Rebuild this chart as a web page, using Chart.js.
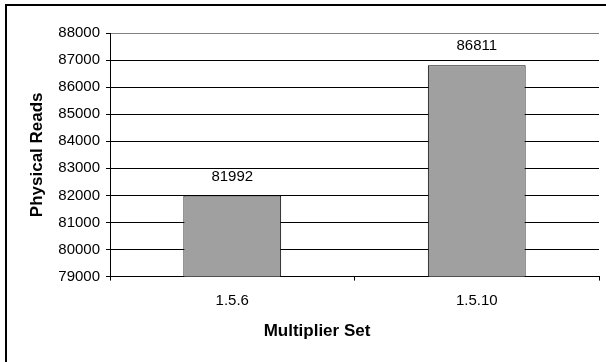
<!DOCTYPE html>
<html>
<head>
<meta charset="utf-8">
<script src="https://cdn.jsdelivr.net/npm/chart.js@4/dist/chart.umd.min.js"></script>
<style>
body { margin: 0; background: #fff; overflow: hidden; }
#wrap { position: relative; width: 606px; height: 362px; overflow: hidden; }
#frame { position: absolute; left: 5px; top: 4px; width: 640px; height: 400px; border-left: 2px solid #000; border-top: 2px solid #000; }
canvas { position: absolute; left: 0; top: 0; }
</style>
</head>
<body>
<div id="wrap">
    <div id="frame"></div>
    <canvas id="chart" width="606" height="362"></canvas>
</div>
<script>
const categories = ["1.5.6", "1.5.10"];
const physicalReads = [81992, 86811];
const yMin = 79000;
const yMax = 88000;
const yStep = 1000;

const fontFamily = "'Liberation Sans', Arial, sans-serif";

// numbers above the bars
const valueLabels = {
    id: "valueLabels",
    afterDatasetsDraw(chart) {
        const ctx = chart.ctx;
        const meta = chart.getDatasetMeta(0);
        ctx.save();
        ctx.font = "15px " + fontFamily;
        ctx.fillStyle = "#000";
        ctx.textAlign = "center";
        ctx.textBaseline = "middle";
        meta.data.forEach((bar, i) => {
            ctx.fillText(physicalReads[i], bar.x, bar.y - 19);
        });
        ctx.restore();
    }
};

new Chart(document.getElementById("chart"), {
    type: "bar",
    data: {
        labels: categories,
        datasets: [{
            data: physicalReads,
            backgroundColor: "#a0a0a0",
            borderColor: "#000",
            borderWidth: 1,
            categoryPercentage: 1,
            barPercentage: 0.4
        }]
    },
    options: {
        responsive: false,
        animation: false,
        layout: { padding: { left: 35, right: 7, top: 33, bottom: 0 } },
        plugins: {
            legend: { display: false },
            tooltip: { enabled: false },
            title: {
                display: true,
                position: "bottom",
                text: "Multiplier Set",
                color: "#000",
                font: { family: fontFamily, size: 17, weight: "bold" },
                padding: { top: 0, bottom: 20 }
            }
        },
        scales: {
            x: {
                offset: true,
                border: { color: "#000", width: 1 },
                grid: {
                    offset: true,
                    drawOnChartArea: true,
                    color: (c) => c.index === categories.length ? "#808080" : "rgba(0,0,0,0)",
                    tickColor: "#000",
                    tickLength: 4
                },
                ticks: {
                    color: "#000",
                    padding: 11,
                    font: { family: fontFamily, size: 15 }
                },
                afterFit: (scale) => { scale.height = 45; }
            },
            y: {
                min: yMin,
                max: yMax,
                border: { color: "#000", width: 1 },
                grid: {
                    color: (c) => c.tick && c.tick.value === yMax ? "#808080" : "#000",
                    tickColor: "#000",
                    tickLength: 4
                },
                ticks: {
                    stepSize: yStep,
                    color: "#000",
                    padding: 6,
                    font: { family: fontFamily, size: 15 },
                    callback: (v) => String(v)
                },
                title: {
                    display: true,
                    text: "Physical Reads",
                    color: "#000",
                    font: { family: fontFamily, size: 17, weight: "bold" },
                    padding: { top: -8, bottom: 0 }
                },
                afterFit: (scale) => { scale.width = 75; }
            }
        }
    },
    plugins: [valueLabels]
});
</script>
</body>
</html>
